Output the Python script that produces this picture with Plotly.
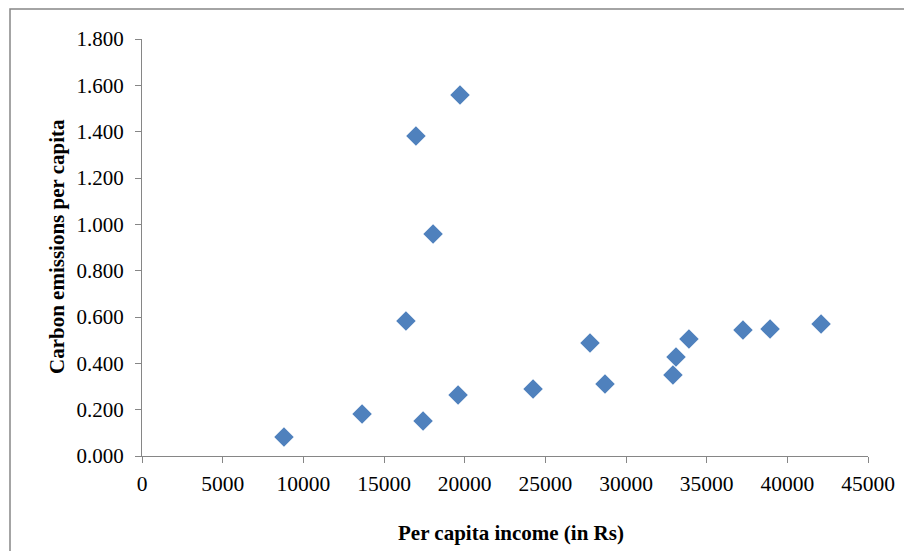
import plotly.graph_objects as go

income = [8800, 13640, 16360, 16980, 17420, 18040, 19710, 19590, 24240, 27770,
          28700, 32910, 33100, 33900, 37250, 38930, 42090]
emissions = [0.082, 0.181, 0.583, 1.381, 0.151, 0.958, 1.558, 0.263, 0.289, 0.488,
             0.311, 0.350, 0.427, 0.505, 0.544, 0.548, 0.570]

x_ticks = [0, 5000, 10000, 15000, 20000, 25000, 30000, 35000, 40000, 45000]
y_ticks = [0.0, 0.2, 0.4, 0.6, 0.8, 1.0, 1.2, 1.4, 1.6, 1.8]

FONT = "Liberation Serif, Times New Roman, serif"
AXIS_COLOR = "#868686"
OFF = 8  # page body margin offset

W, H = 912, 551
L, T = 142 - OFF, 39 - OFF
R = W - (868 - OFF)
B = H - (456 - OFF)
pw, ph = W - L - R, H - T - B

def px_x(sx):
    return (sx - OFF - L) / pw

def px_y(sy):
    return (T + ph - (sy - OFF)) / ph

fig = go.Figure()
fig.add_trace(go.Scatter(
    x=income, y=emissions, mode="markers",
    marker=dict(symbol="diamond", size=15, color="#4F81BD",
                line=dict(width=0)),
    showlegend=False, cliponaxis=False,
))

fig.update_layout(
    width=W, height=H,
    margin=dict(l=L, r=R, t=T, b=B, pad=0),
    paper_bgcolor="white", plot_bgcolor="white",
    font=dict(family=FONT, size=21, color="black"),
    xaxis=dict(range=[0, 45000], tickvals=x_ticks,
               ticktext=[str(v) for v in x_ticks],
               showgrid=False, zeroline=False, showline=True,
               linecolor=AXIS_COLOR, linewidth=1.3,
               ticks="outside", ticklen=6, tickcolor=AXIS_COLOR,
               ticklabelstandoff=2,
               tickfont=dict(family=FONT, size=21.5, color="black")),
    yaxis=dict(range=[0, 1.8], tickvals=y_ticks,
               ticktext=[f"{v:.3f}" for v in y_ticks],
               showgrid=False, zeroline=False, showline=True,
               linecolor=AXIS_COLOR, linewidth=1.3,
               ticks="outside", ticklen=6, tickcolor=AXIS_COLOR,
               ticklabelstandoff=7,
               tickfont=dict(family=FONT, size=21, color="black")),
    annotations=[
        dict(text="<b>Per capita income (in Rs)</b>", xref="paper", yref="paper",
             x=px_x(511), y=px_y(533),
             xanchor="center", yanchor="middle", showarrow=False,
             font=dict(family=FONT, size=21, color="black")),
        dict(text="<b>Carbon emissions per capita</b>", xref="paper", yref="paper",
             x=px_x(57), y=px_y(247), textangle=-90,
             xanchor="center", yanchor="middle", showarrow=False,
             font=dict(family=FONT, size=21, color="black")),
    ],
    shapes=[
        dict(type="rect", xref="paper", yref="paper",
             x0=px_x(10), x1=px_x(W + 30),
             y0=px_y(H + 30), y1=px_y(9),
             line=dict(color=AXIS_COLOR, width=1.5), fillcolor="rgba(0,0,0,0)",
             layer="below"),
    ],
)

fig.write_html("out.html")
